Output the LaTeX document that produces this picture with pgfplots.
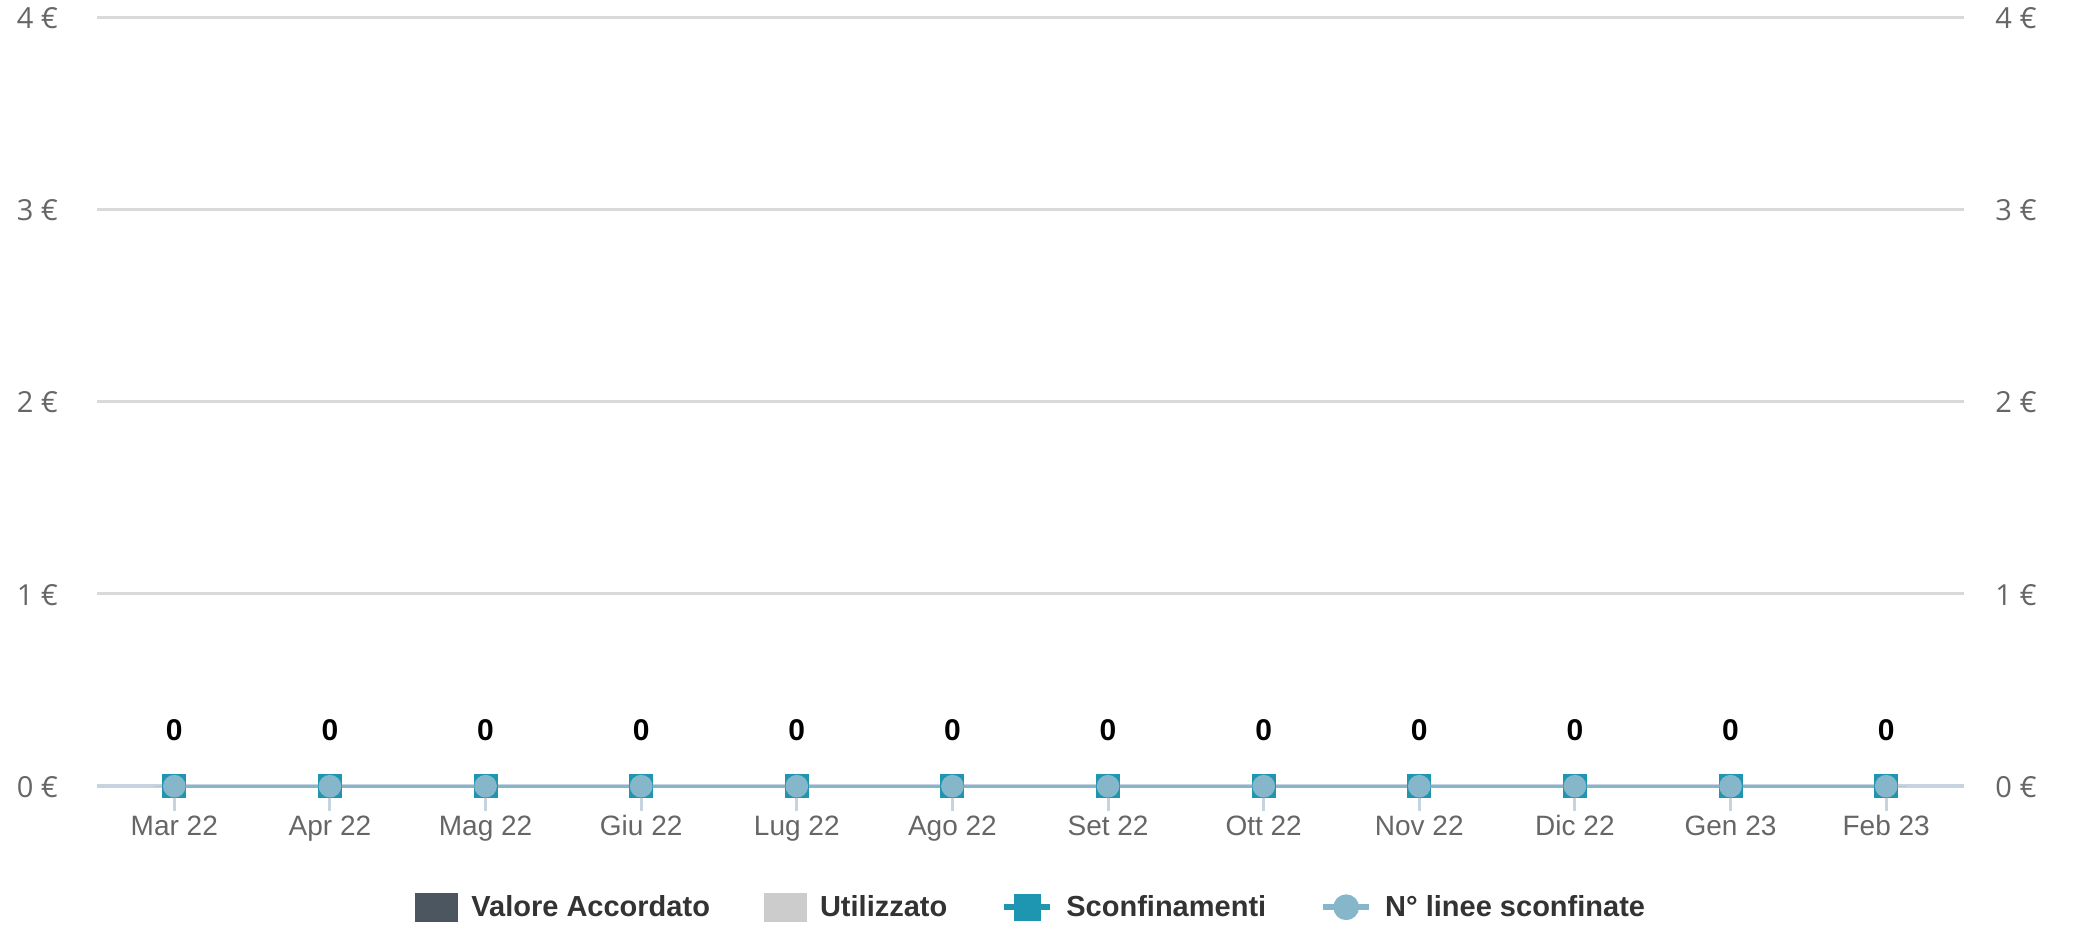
\documentclass[border=0pt]{standalone}
\usepackage{pgfplots}
\pgfplotsset{compat=1.18}
\usetikzlibrary{calc}
\usepackage{fontspec}
\setmainfont{Liberation Sans}
\newfontfamily\ylabfont{Open Sans}

\definecolor{gridgray}{HTML}{D9D9D9}
\definecolor{axisblue}{HTML}{C6D4E1}
\definecolor{labgray}{HTML}{666666}
\definecolor{legtext}{HTML}{333333}
\definecolor{accordato}{HTML}{4B5661}
\definecolor{utilizzato}{HTML}{CCCCCC}
\definecolor{sconf}{HTML}{1F96B1}
\definecolor{linee}{HTML}{86B6CA}

\pgfplotsset{
    barleg/.style={legend image code/.code={\fill[##1] (0pt,-7.25pt) rectangle (21.5pt,7.25pt);}},
    lineleg/.style={legend image code/.code={\draw[##1, line width=3pt, mark repeat=2, mark phase=2] plot coordinates {(0pt,0pt) (11.5pt,0pt) (23pt,0pt)};}},
}

\begin{document}
\begin{tikzpicture}
\begin{axis}[
    scale only axis,
    width=933.5pt, height=384.5pt,
    xmin=-0.5, xmax=11.5,
    ymin=0, ymax=4,
    clip=false,
    axis x line*=bottom,
    axis y line*=left,
    x axis line style={draw=axisblue, line width=2pt, -},
    y axis line style={draw=none},
    xtick={0,...,11},
    xticklabels={Mar 22,Apr 22,Mag 22,Giu 22,Lug 22,Ago 22,Set 22,Ott 22,Nov 22,Dic 22,Gen 23,Feb 23},
    xtick style={draw=axisblue, line width=1.5pt},
    tick align=outside,
    major tick length=12.5pt,
    xticklabel style={font=\fontsize{14}{16}\selectfont, text=labgray, anchor=base, inner sep=0pt, yshift=-12pt},
    ytick={0,1,2,3,4},
    yticklabels={0 €,1 €,2 €,3 €,4 €},
    ytick style={draw=none},
    yticklabel style={font=\ylabfont\fontsize{14.5}{17}\selectfont, text=labgray, anchor=east, inner sep=0pt, xshift=-6.5pt, yshift=-0.5pt},
    ymajorgrids,
    grid style={draw=gridgray, line width=1.5pt},
    /pgf/number format/assume math mode=true,
    legend columns=4,
    legend style={at={(0.5,-0.1574)}, anchor=center, draw=none, fill=none,
        font=\bfseries\fontsize{14.5}{17}\selectfont, text=legtext,
        nodes={inner sep=0pt},
        /tikz/every even column/.append style={column sep=27pt},
        /tikz/every odd column/.append style={column sep=6.5pt}},
]
\addplot[ybar, bar width=20pt, fill=accordato, draw=none, barleg]
    coordinates {(0,0) (1,0) (2,0) (3,0) (4,0) (5,0) (6,0) (7,0) (8,0) (9,0) (10,0) (11,0)};
\addlegendentry{Valore Accordato}
\addplot[ybar, bar width=20pt, fill=utilizzato, draw=none, barleg]
    coordinates {(0,0) (1,0) (2,0) (3,0) (4,0) (5,0) (6,0) (7,0) (8,0) (9,0) (10,0) (11,0)};
\addlegendentry{Utilizzato}
\addplot[color=sconf, line width=1.5pt, mark=square*, mark size=5.25pt,
    mark options={draw=none, fill=sconf},
    nodes near coords,
    nodes near coords style={font=\bfseries\fontsize{15}{17}\selectfont, text=black, anchor=base, inner sep=0pt, yshift=23pt},
    lineleg]
    coordinates {(0,0) (1,0) (2,0) (3,0) (4,0) (5,0) (6,0) (7,0) (8,0) (9,0) (10,0) (11,0)};
\addlegendentry{Sconfinamenti}
\addplot[color=linee, line width=1.5pt, mark=*, mark size=4.9pt,
    mark options={draw=none, fill=linee}, lineleg]
    coordinates {(0,0) (1,0) (2,0) (3,0) (4,0) (5,0) (6,0) (7,0) (8,0) (9,0) (10,0) (11,0)};
\addlegendentry{N° linee sconfinate}
\coordinate (sw) at (rel axis cs:0,0);
\coordinate (ne) at (rel axis cs:1,1);
\end{axis}
\begin{axis}[
    scale only axis,
    width=933.5pt, height=384.5pt,
    xmin=-0.5, xmax=11.5,
    ymin=0, ymax=4,
    hide x axis,
    axis y line*=right,
    y axis line style={draw=none},
    ytick={0,1,2,3,4},
    yticklabels={0 €,1 €,2 €,3 €,4 €},
    ytick style={draw=none},
    yticklabel style={font=\ylabfont\fontsize{14.5}{17}\selectfont, text=labgray, anchor=west, inner sep=0pt, xshift=15.5pt, yshift=-0.5pt},
]
\addplot[draw=none] coordinates {(0,0) (11,0)};
\end{axis}
\pgfresetboundingbox
\useasboundingbox ($(sw)+(-48.25pt,-70pt)$) rectangle ($(ne)+(55pt,8.5pt)$);
\end{tikzpicture}
\end{document}
